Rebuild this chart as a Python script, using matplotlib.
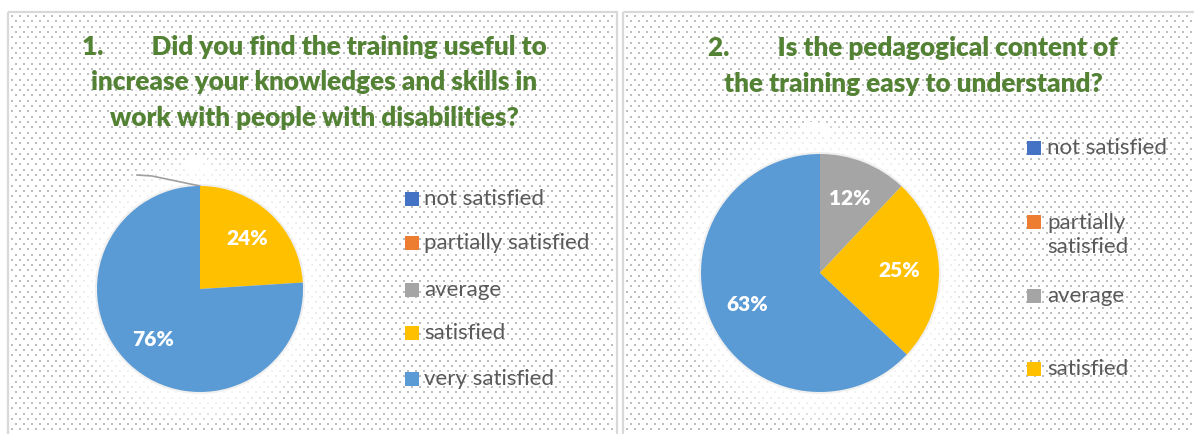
import numpy as np
import matplotlib
matplotlib.use("Agg")
import matplotlib.pyplot as plt
from matplotlib.patches import Circle, Rectangle

# ---------------- data ----------------
categories = ["not satisfied", "partially satisfied", "average", "satisfied", "very satisfied"]
q1_values = [0, 0, 0, 24, 76]
q2_values = [0, 0, 12, 25, 63]
colors = ["#4472C4", "#ED7D31", "#A5A5A5", "#FFC000", "#5B9BD5"]
title1 = ["1.        Did you find the training useful to",
          "increase your knowledges and skills in",
          "work with people with disabilities?"]
title2 = ["2.        Is the pedagogical content of",
          "the training easy to understand?"]
legend2_labels = ["not satisfied", "partially\nsatisfied", "average", "satisfied"]

W, H = 1194, 434
fig = plt.figure(figsize=(W / 100, H / 100), dpi=100)
fig.patch.set_facecolor("white")

bg = fig.add_axes([0, 0, 1, 1])
bg.set_xlim(0, W)
bg.set_ylim(H, 0)
bg.axis("off")

# panels
panels = [(8, 12, 609, 430), (623, 12, 580, 430)]
for (x0, y0, w, h) in panels:
    xs, ys = [], []
    row = 0
    y = y0 + 4
    while y < y0 + h:
        off = 0 if row % 2 == 0 else 4
        xx = np.arange(x0 + 4 + off, x0 + w - 2, 8)
        xs.extend(xx)
        ys.extend([y] * len(xx))
        y += 5.3
        row += 1
    bg.scatter(xs, ys, s=1.8, marker="s", color="#bdbdbd", linewidths=0, zorder=1)
    bg.add_patch(Rectangle((x0, y0), w, h, fill=False, edgecolor="#d9d9d9", lw=1.6, zorder=2))

# glow around pies
pie_geo = [(200, 289, 103), (820, 273, 119)]
for (cx, cy, r) in pie_geo:
    for k in range(34, 0, -2):
        bg.add_patch(Circle((cx, cy), r + k, facecolor="white", edgecolor="none", alpha=0.13, zorder=3))
    bg.add_patch(Circle((cx, cy), r + 2, facecolor="#e6e6e6", edgecolor="none", alpha=0.6, zorder=3))

title_kw = dict(color="#548235", fontsize=18.8, fontweight="heavy", family="Lato",
                ha="center", va="center", zorder=5)
for i, line in enumerate(title1):
    bg.text(314, 47 + i * 35.5, line, **title_kw)
for i, line in enumerate(title2):
    bg.text(913, 48 + i * 36, line, **title_kw)


def draw_pie(cx, cy, r, values):
    ax = fig.add_axes([(cx - r) / W, 1 - (cy + r) / H, 2 * r / W, 2 * r / H])
    ax.set_zorder(4)
    ax.patch.set_alpha(0)
    wedges, _ = ax.pie(values, colors=colors, startangle=90, counterclock=False,
                       radius=1, wedgeprops=dict(linewidth=0))
    ax.set_xlim(-1, 1)
    ax.set_ylim(-1, 1)
    ax.set_aspect("equal")
    ax.axis("off")
    total = sum(values)
    cum = 0
    for v in values:
        mid = np.deg2rad(90 - 360 * (cum + v / 2) / total)
        d = 0.67 if v > 0 else 1.2
        ax.text(d * np.cos(mid), d * np.sin(mid), f"{v}%", color="white",
                fontsize=15, fontweight="heavy", family="Lato", ha="center", va="center")
        cum += v
    return ax


draw_pie(200, 289, 103, q1_values)
draw_pie(820, 273, 119, q2_values)

# leader line in chart 1
bg.plot([137, 152, 200], [175, 176, 186], color="#a0a0a0", lw=1.2, zorder=5)

# legends
leg_kw = dict(color="#595959", fontsize=16, family="Lato", ha="left", va="center", zorder=5)
for lab, col, y in zip(categories, colors, [199, 243, 290, 333, 379]):
    bg.add_patch(Rectangle((405, y - 7), 14, 14, facecolor=col, edgecolor="none", zorder=5))
    bg.text(424, y, lab, **leg_kw)

for lab, col, y, ty in zip(legend2_labels, colors, [148, 222, 296, 369], [148, 235, 296, 369]):
    bg.add_patch(Rectangle((1027, y - 7), 14, 14, facecolor=col, edgecolor="none", zorder=5))
    bg.text(1047, ty, lab, linespacing=1.3, **leg_kw)

fig.savefig("out.png", dpi=100, facecolor="white")
